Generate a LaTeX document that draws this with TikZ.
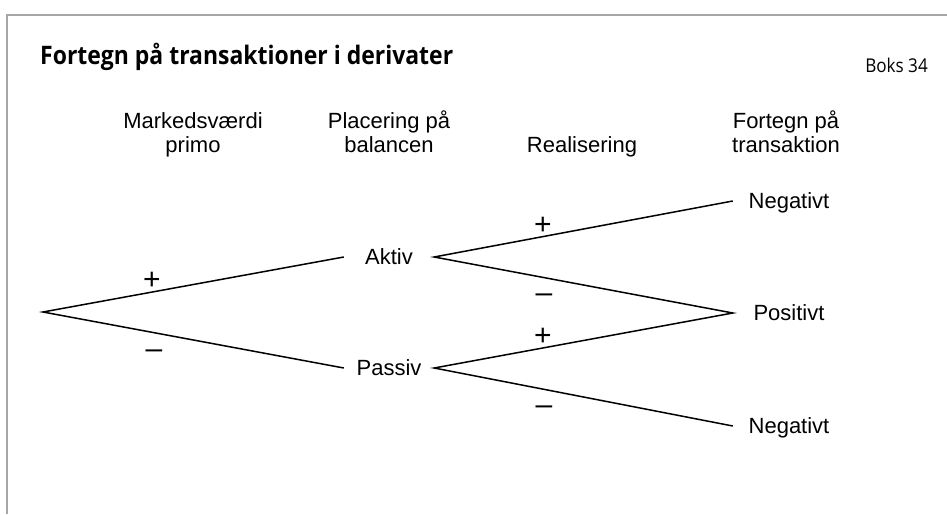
\documentclass[tikz,border=0pt]{standalone}
\usepackage{fontspec}
\setmainfont{Liberation Sans}
\newfontfamily\boxfont{Open Sans}[FakeStretch=0.9]
\newfontfamily\lblfont{Liberation Sans}

\tikzset{
        branch/.style={line width=1.5pt},
        lbl/.style={font=\lblfont\fontsize{22}{24}\selectfont, inner sep=0pt, text height=15pt, text depth=0pt},
        mid/.style={lbl, minimum width=90pt},
        fin/.style={lbl, minimum width=112pt},
        head/.style={font=\lblfont\fontsize{22}{24}\selectfont, inner sep=0pt, align=center, anchor=base},
        sgn/.style={font=\fontsize{30}{30}\selectfont, inner sep=0pt, anchor=base},
        frame/.style={line width=2.2pt, color=black!35}
}

\begin{document}
\begin{tikzpicture}[x=1pt, y=-1pt]
        \useasboundingbox (0,0) rectangle (947,514);
        \draw[frame] (7,514) -- (7,15) -- (947,15);
        \node[anchor=base west, inner sep=0pt, font=\boxfont\bfseries\fontsize{25.5}{28}\selectfont] (title) at (40,64) {Fortegn på transaktioner i derivater};
        \node[anchor=base east, inner sep=0pt, font=\boxfont\fontsize{19}{22}\selectfont] (boks) at (928,72) {Boks 34};
        % kolonneoverskrifter
        \node[head] (h1) at (193,152) {Markedsværdi\\primo};
        \node[head] (h2) at (389,152) {Placering på\\balancen};
        \node[head] (h3) at (582,152) {Realisering};
        \node[head] (h4) at (786,152) {Fortegn på\\transaktion};
        % træet
        \coordinate (root) at (43,312);
        \node[mid] (aktiv) at (389,257) {Aktiv};
        \node[mid] (passiv) at (389,368) {Passiv};
        \node[fin] (neg1) at (789,201) {Negativt};
        \node[fin] (pos) at (789,313) {Positivt};
        \node[fin] (neg2) at (789,426) {Negativt};
        \draw[branch] (aktiv.west) -- (root) -- (passiv.west);
        \draw[branch] (neg1.west) -- (aktiv.east) -- (pos.west) -- (passiv.east) -- (neg2.west);
        % fortegn
        \node[sgn] (p1) at (152,289) {+};
        \node[sgn] (m1) at (154,358) {–};
        \node[sgn] (p2) at (543,234) {+};
        \node[sgn] (m2) at (544,302) {–};
        \node[sgn] (p3) at (543,345) {+};
        \node[sgn] (m3) at (544,414) {–};
\end{tikzpicture}
\end{document}
